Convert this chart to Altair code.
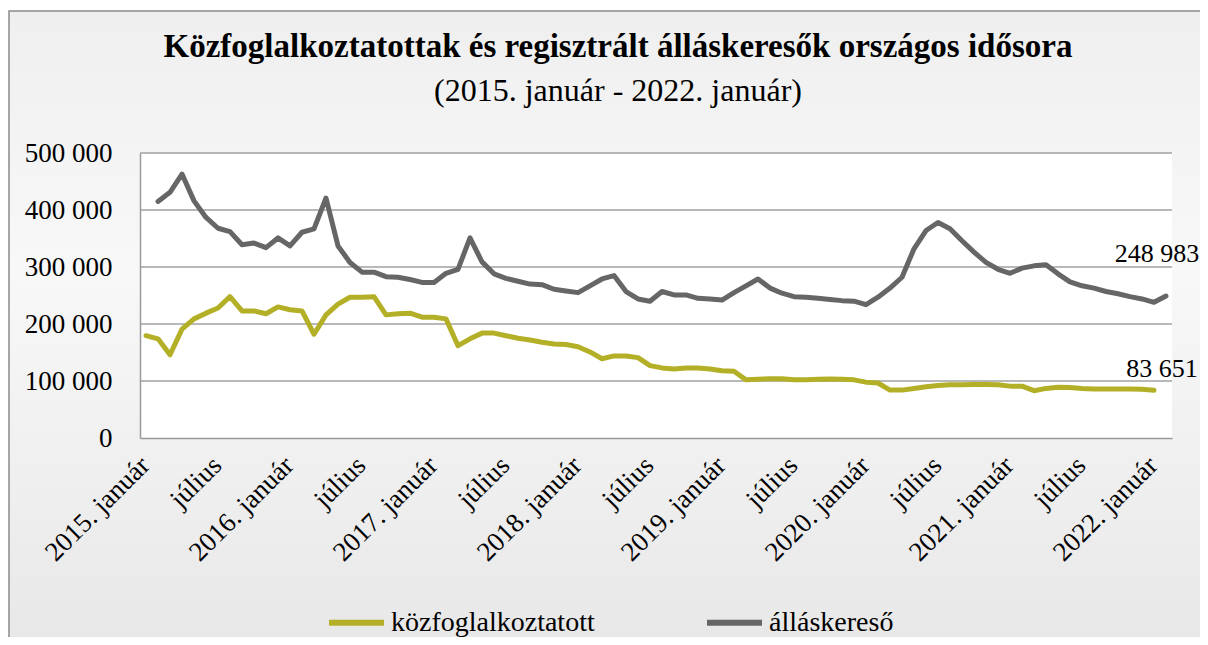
import altair as alt
import pandas as pd

# ---- data -------------------------------------------------------------
# 86 monthly categories on the axis (2015-01 .. 2022-02)
months = [f"{y}-{m:02d}" for y in range(2015, 2023) for m in range(1, 13)][:86]

tick_keys = ["2015-01", "2015-07", "2016-01", "2016-07", "2017-01", "2017-07",
             "2018-01", "2018-07", "2019-01", "2019-07", "2020-01", "2020-07",
             "2021-01", "2021-07", "2022-01"]
tick_labels = ["2015. január", "július", "2016. január", "július", "2017. január",
               "július", "2018. január", "július", "2019. január", "július",
               "2020. január", "július", "2021. január", "július", "2022. január"]

series_names = ["közfoglalkoztatott", "álláskereső"]
series_colors = ["#B3B028", "#666666"]

kozfoglalkoztatott = [
    179500, 174000, 146000, 191000, 209000, 219000, 228000, 248000, 223000, 223000,
    218000, 230000, 225000, 223000, 182000, 216000, 235000, 247000, 247000, 248000,
    216000, 218000, 219000, 212000, 212000, 209000, 162000, 174000, 184000, 184000,
    179500, 175000, 172000, 168000, 165000, 164000, 160000, 151000, 139000, 144000,
    144000, 141000, 127000, 123000, 121000, 123000, 123000, 121000, 118000, 117000,
    102000, 103000, 104000, 104000, 102000, 102000, 103000, 103500, 103000, 102000,
    98000, 96500, 84000, 84000, 87000, 90000, 92000, 93500, 93500, 94000,
    94000, 93500, 91000, 91000, 83000, 87000, 89000, 88500, 87000, 86000,
    86000, 86000, 86000, 85500, 83651]

allaskereso = [
    415000, 431000, 463000, 416000, 387000, 368000, 362000, 339000, 342000, 334000,
    351000, 337000, 361000, 367000, 421000, 337000, 308000, 291000, 291000, 283000,
    282000, 278000, 273000, 273000, 289000, 296000, 351000, 309000, 288000,
    280000, 275000, 270000, 269000, 261000, 258000, 255000, 267000, 279000, 285000,
    257000, 244000, 240000, 257000, 251000, 251000, 245000, 244000, 242000, 255000,
    267000, 279000, 263000, 254000, 248000, 247000, 245000, 243000,
    241000, 240000, 234000, 247000, 263000, 282000, 332000, 364000, 378000, 367000,
    346000, 326000, 308000, 296000, 289000, 298000, 302000, 304000, 288000, 274000,
    267000, 263000, 257000, 253000, 248000, 244000, 238000, 248983]

grid_values = [100000, 200000, 300000, 400000, 500000]

# ---- tables -----------------------------------------------------------
df = pd.concat([
    pd.DataFrame({"month": months[0:85], "series": series_names[0], "value": kozfoglalkoztatott}),
    pd.DataFrame({"month": months[1:86], "series": series_names[1], "value": allaskereso}),
], ignore_index=True)

last_green = pd.DataFrame({"month": [months[84]], "series": [series_names[0]], "value": [kozfoglalkoztatott[-1]]})
last_gray = pd.DataFrame({"month": [months[85]], "series": [series_names[1]], "value": [allaskereso[-1]]})
grid_df = pd.DataFrame({"value": grid_values})
one = pd.DataFrame({"a": [0]})

W, H = 1032, 285
FONT = "Liberation Serif"

label_expr = " : ".join(f"datum.value == '{k}' ? '{l}'" for k, l in zip(tick_keys, tick_labels)) + " : ''"

x_scale = alt.Scale(domain=months, type="point", padding=0.5)
x_enc = alt.X("month:O", sort=months, scale=x_scale,
              axis=alt.Axis(values=tick_keys, labelExpr=label_expr, title=None,
                            labelAngle=315, labelAlign="right", labelBaseline="middle",
                            labelFont=FONT, labelFontSize=27, labelColor="black",
                            labelPadding=23, labelOffset=-1, ticks=False,
                            domainColor="#9a9a9a", domainWidth=1.5, grid=False,
                            zindex=1, labelOverlap=False))
y_scale = alt.Scale(domain=[0, 500000], nice=False)
y_enc = alt.Y("value:Q", scale=y_scale,
              axis=alt.Axis(values=[0, 100000, 200000, 300000, 400000, 500000],
                            format=",d", title=None, labelFont=FONT, labelFontSize=27,
                            labelColor="black", labelPadding=28, ticks=False,
                            domainColor="#9a9a9a", domainWidth=1.5, grid=False, zindex=1))

color_enc = alt.Color("series:N",
                      scale=alt.Scale(domain=series_names, range=series_colors),
                      legend=alt.Legend(orient="none", legendX=186, legendY=439,
                                        direction="horizontal", title=None,
                                        symbolType="stroke", symbolSize=3025,
                                        symbolStrokeWidth=6, labelFont=FONT,
                                        labelFontSize=28, labelColor="black",
                                        labelLimit=500, columnPadding=100, labelOffset=4))

background = alt.Chart(one).mark_rect(
    color=alt.Gradient(gradient="linear", x1=0, x2=0, y1=0, y2=1,
                       stops=[alt.GradientStop(color="#efefef", offset=0),
                              alt.GradientStop(color="#f8f8f8", offset=0.35),
                              alt.GradientStop(color="#e3e3e3", offset=1)]),
    stroke="#8a8a8a", strokeWidth=1.5
).encode(x=alt.value(-131), x2=alt.value(1200), y=alt.value(-142), y2=alt.value(600))

plot_bg = alt.Chart(one).mark_rect(color="white").encode(
    x=alt.value(0), x2=alt.value(W), y=alt.value(0), y2=alt.value(H))

grid = alt.Chart(grid_df).mark_rule(color="#a0a0a0", strokeWidth=1.5).encode(
    y=alt.Y("value:Q", scale=y_scale))

lines = alt.Chart(df).mark_line(strokeWidth=5, strokeCap="round", strokeJoin="round").encode(
    x=x_enc, y=y_enc, color=color_enc, order=alt.Order("month:O"))

txt_green = alt.Chart(last_green).mark_text(
    font=FONT, fontSize=26, color="black", dx=8, dy=-21, baseline="middle", align="center"
).encode(x=alt.X("month:O", sort=months, scale=x_scale),
         y=alt.Y("value:Q", scale=y_scale), text=alt.Text("value:Q", format=",d"))

txt_gray = alt.Chart(last_gray).mark_text(
    font=FONT, fontSize=26, color="black", dx=-9, dy=-42, baseline="middle", align="center"
).encode(x=alt.X("month:O", sort=months, scale=x_scale),
         y=alt.Y("value:Q", scale=y_scale), text=alt.Text("value:Q", format=",d"))

chart = alt.layer(background, plot_bg, grid, lines, txt_green, txt_gray).properties(
    width=W, height=H,
    autosize=alt.AutoSizeParams(type="none"),
    padding={"left": 132, "top": 145, "right": 28, "bottom": 199},
    title=alt.TitleParams(
        text="Közfoglalkoztatottak és regisztrált álláskeresők országos idősora",
        subtitle="(2015. január - 2022. január)",
        font=FONT, fontSize=33, fontWeight="bold", color="black",
        subtitleFont=FONT, subtitleFontSize=32, subtitleColor="black",
        subtitlePadding=12, anchor="middle", frame="group", dx=-38, offset=-97),
).configure(
    locale={"number": {"decimal": ",", "thousands": " ", "grouping": [3], "currency": ["", " Ft"]}}
).configure_view(stroke=None)

chart.save("out.html", embed_options={"renderer": "svg", "actions": False})
